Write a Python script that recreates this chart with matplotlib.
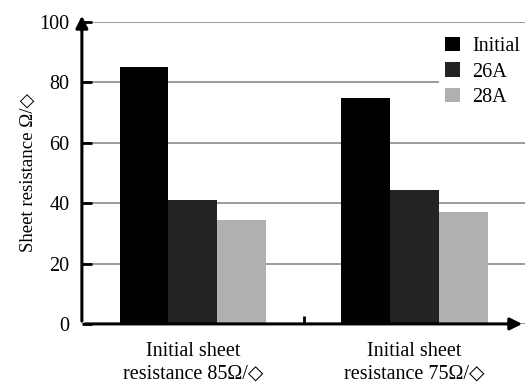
import matplotlib.pyplot as plt
import numpy as np

plt.rcParams['font.family'] = ['Liberation Serif', 'DejaVu Serif']

# data
groups = ['Initial sheet\nresistance 85Ω/◇', 'Initial sheet\nresistance 75Ω/◇']
series = ['Initial', '26A', '28A']
initial = [85, 75]
a26 = [41, 44.5]
a28 = [34.5, 37]
colors = ['#000000', '#232323', '#b0b0b0']

fig = plt.figure(figsize=(5.25, 3.87), dpi=100)
ax = fig.add_axes([0.156, 0.163, 0.844, 0.780])

x = np.arange(len(groups))
w = 0.22
for i, (vals, name) in enumerate(zip([initial, a26, a28], series)):
    ax.bar(x + (i - 1) * w, vals, w, color=colors[i], label=name, zorder=3)

ax.set_xlim(-0.5, 1.498)
ax.set_ylim(0, 100)
ax.set_yticks([0, 20, 40, 60, 80, 100])
ax.yaxis.grid(True, color='#8a8a8a', linewidth=1.2, zorder=0)
ax.set_axisbelow(True)

for s in ['top', 'right', 'bottom', 'left']:
    ax.spines[s].set_visible(False)

# axis lines with arrows
ax.annotate('', xy=(0, 1.03), xytext=(0, 0), xycoords='axes fraction',
            arrowprops=dict(arrowstyle='-|>', color='black', lw=2.2,
                            mutation_scale=18), annotation_clip=False)
ax.annotate('', xy=(1.0, 0), xytext=(0, 0), xycoords='axes fraction',
            arrowprops=dict(arrowstyle='-|>', color='black', lw=2.2,
                            mutation_scale=18), annotation_clip=False)

ax.tick_params(axis='y', direction='in', length=7, width=2, labelsize=14.5, pad=9)
ax.set_xticks([0.5], minor=True)
ax.tick_params(axis='x', which='minor', direction='in', length=6, width=2)
ax.set_xticks(x)
ax.set_xticklabels(groups, fontsize=14.5, linespacing=1.25)
ax.tick_params(axis='x', which='major', length=0, pad=13)

ax.set_ylabel('Sheet resistance Ω/◇', fontsize=13.5, labelpad=2)

leg = ax.legend(loc='upper right', bbox_to_anchor=(1.025, 1.005), fontsize=14.5,
                frameon=True, edgecolor='none', facecolor='white', framealpha=1,
                handlelength=0.75, handleheight=0.75, handletextpad=0.6,
                labelspacing=0.3, borderpad=0.3, fancybox=False)

fig.savefig('out.png', dpi=100)
